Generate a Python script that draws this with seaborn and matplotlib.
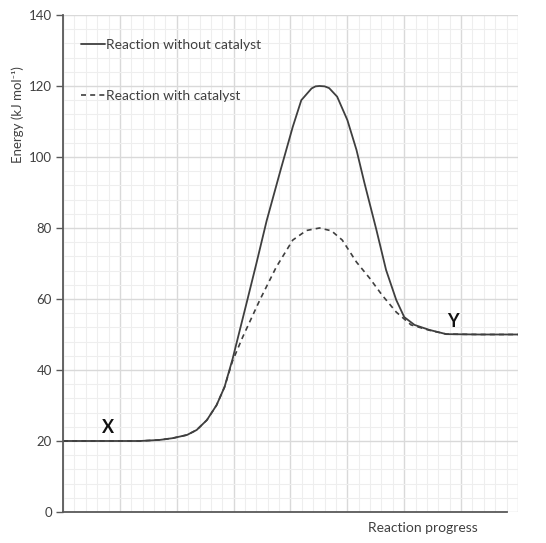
import numpy as np
import pandas as pd
import matplotlib
matplotlib.use("Agg")
import matplotlib.pyplot as plt
import seaborn as sns
from matplotlib.ticker import MultipleLocator

sns.set_style("white")
plt.rcParams['font.family'] = ['Lato', 'DejaVu Sans']

# uncatalysed path
x_plain = [0, 1.0, 1.35, 1.70, 1.93, 2.18, 2.35, 2.53, 2.70, 2.84, 2.98, 3.23, 3.40, 3.58,
           3.82, 4.04, 4.19, 4.37, 4.44, 4.51, 4.60, 4.68, 4.82, 5.00, 5.16, 5.30, 5.51,
           5.68, 5.86, 6.00, 6.18, 6.44, 6.74, 7.32, 8.0]
e_plain = [20, 20, 20, 20.3, 20.8, 21.7, 23.1, 25.9, 30.1, 35.2, 43, 59, 70, 82,
           96, 108.5, 116, 119.3, 119.9, 120, 119.9, 119.4, 117, 110.4, 102, 92.7, 79.5,
           68.2, 59.7, 54.9, 52.7, 51.3, 50.1, 50, 50]

# catalysed path
x_cat = [0, 1.0, 1.35, 1.70, 1.93, 2.18, 2.35, 2.53, 2.70, 2.84, 2.98, 3.16, 3.46, 3.75,
         4.04, 4.28, 4.51, 4.72, 4.91, 5.16, 5.39, 5.61, 5.86, 6.12, 6.44, 6.74, 7.32, 8.0]
e_cat = [20, 20, 20, 20.3, 20.8, 21.7, 23.1, 25.9, 30.1, 35.2, 42.5, 49.3, 59.7, 69,
         76.6, 79.3, 80, 79.2, 76.6, 70.4, 65.9, 61.1, 56.3, 52.7, 51.2, 50.1, 50, 50]

labels = ["Reaction without catalyst", "Reaction with catalyst"]
y_ticks = list(range(0, 141, 20))

line_col = "#3f3f3f"
fig = plt.figure(figsize=(5.46, 5.43), dpi=100)
ax = fig.add_axes([0.1154, 0.0571, 0.8333, 0.9153])

sns.lineplot(x=x_plain, y=e_plain, ax=ax, color=line_col, lw=1.3, sort=False, label=labels[0])
sns.lineplot(x=x_cat, y=e_cat, ax=ax, color=line_col, lw=1.2, sort=False, label=labels[1],
             linestyle=(0, (3, 2.5)))

ax.set_xlim(0, 8)
ax.set_ylim(0, 140)
ax.xaxis.set_major_locator(MultipleLocator(1))
ax.xaxis.set_minor_locator(MultipleLocator(0.2))
ax.set_yticks(y_ticks)
ax.yaxis.set_minor_locator(MultipleLocator(4))
ax.grid(which='major', color='#d9d9d9', lw=1.0)
ax.grid(which='minor', color='#eeeeee', lw=0.8)
ax.set_axisbelow(True)
ax.tick_params(axis='x', which='both', bottom=False, labelbottom=False)
ax.tick_params(axis='y', which='major', left=True, length=5, width=1, color='#595959',
               labelsize=9.5, labelcolor='#404040', pad=3)
ax.tick_params(axis='y', which='minor', left=False)

for s in ['top', 'right']:
    ax.spines[s].set_visible(False)
for s in ['left', 'bottom']:
    ax.spines[s].set_color('#595959')
    ax.spines[s].set_linewidth(1.3)
ax.spines['bottom'].set_bounds(0, 7.8)

ax.set_ylabel("Energy (kJ mol\u207b\u00b9)", fontsize=9.5, color='#404040')
ax.yaxis.set_label_coords(-0.085, 0.80)
ax.set_xlabel("Reaction progress", fontsize=10, color='#404040')
ax.xaxis.set_label_coords(0.79, -0.02)

ax.text(0.79, 23.7, "X", fontsize=13, fontweight='bold', ha='center', va='center', color='#111111')
ax.text(6.86, 53.8, "Y", fontsize=13, fontweight='bold', ha='center', va='center', color='#111111')

ax.legend(loc='upper left', bbox_to_anchor=(0.025, 0.965), frameon=False, fontsize=10,
          handlelength=1.7, handletextpad=0.05, labelspacing=2.8, borderpad=0,
          labelcolor='#404040')

fig.savefig("out.png", dpi=100, facecolor='white')
